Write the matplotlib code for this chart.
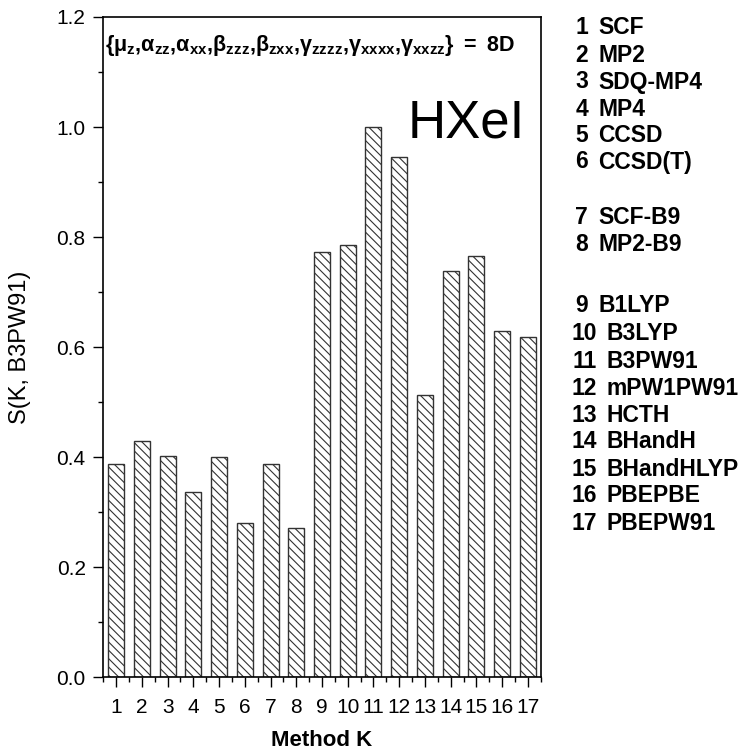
import matplotlib
matplotlib.use("Agg")
import matplotlib.pyplot as plt
import numpy as np

methods = list(range(1, 18))
values = [0.387, 0.429, 0.402, 0.336, 0.401, 0.281, 0.388, 0.272,
          0.773, 0.785, 1.000, 0.945, 0.513, 0.739, 0.766, 0.629, 0.619]
method_names = ["SCF", "MP2", "SDQ-MP4", "MP4", "CCSD", "CCSD(T)",
                "SCF-B9", "MP2-B9",
                "B1LYP", "B3LYP", "B3PW91", "mPW1PW91", "HCTH", "BHandH",
                "BHandHLYP", "PBEPBE", "PBEPW91"]
ylabel = "S(K, B3PW91)"
xlabel = "Method K"
molecule = "HXeI"

plt.rcParams['font.family'] = ['Liberation Sans', 'DejaVu Sans']
plt.rcParams['mathtext.fontset'] = 'custom'
plt.rcParams['mathtext.rm'] = 'Liberation Sans:bold'
plt.rcParams['mathtext.it'] = 'Liberation Sans:bold'
plt.rcParams['mathtext.bf'] = 'Liberation Sans:bold'
plt.rcParams['hatch.linewidth'] = 0.8

W, H = 747, 751
fig = plt.figure(figsize=(W/100, H/100), dpi=100)
x0, x1, y0, y1 = 103.3, 540.7, 17.0, 677.3
ax = fig.add_axes([x0/W, 1 - y1/H, (x1-x0)/W, (y1-y0)/H])

ax.bar(methods, values, width=0.62, color='white', edgecolor='#333333',
       linewidth=1.0, hatch='\\\\\\\\')

ax.set_xlim(0.5, 17.5)
ax.set_ylim(0, 1.2)
ax.set_xticks(methods)
ax.set_xticks(np.arange(0.5, 18, 1.0), minor=True)
ax.set_yticks(np.arange(0, 1.21, 0.2))
ax.set_yticks(np.arange(0.1, 1.2, 0.2), minor=True)
ax.set_yticklabels([f"{v:.1f}" for v in np.arange(0, 1.21, 0.2)])
ax.tick_params(which='major', direction='out', length=7.2, width=1.0, labelsize=15)
ax.tick_params(axis='y', which='major', pad=5.5)
ax.tick_params(axis='x', which='major', pad=8)
ax.tick_params(which='minor', direction='out', length=3.6, width=1.0)
for s in ax.spines.values():
    s.set_linewidth(1.2)

yl = ax.set_ylabel(ylabel, fontsize=17)
yl.set_va('center')
ax.yaxis.set_label_coords((20 - x0)/(x1 - x0), 0.5)
xl = ax.set_xlabel(xlabel, fontsize=16, fontweight='bold')
xl.set_va('center')
ax.xaxis.set_label_coords(0.5, (y1 - 741)/(y1 - y0))

formula = (r"$\{\mathrm{μ_z{,}α_{zz}{,}α_{xx}{,}β_{zzz}{,}β_{zxx}{,}γ_{zzzz}{,}γ_{xxxx}{,}γ_{xxzz}}\}"
           r"\mathrm{\ {=}\ 8D}$")
fig.text(105/W, 1 - 45/H, formula, fontsize=15.5, ha='left', va='center')

fig.text(525/W, 1 - 138/H, molecule, fontsize=38, ha='right', va='baseline')

ys = [28, 55, 82, 109, 135, 162, 217, 244, 306, 333, 361, 388, 415, 442, 469, 496, 523]
for i, (n, name) in enumerate(zip(methods, method_names)):
    fig.text((597 if n >= 10 else 588)/W, 1 - ys[i]/H, str(n), fontsize=16.5,
             fontweight='bold', ha='right', va='center')
    fig.text((606 if n >= 10 else 598)/W, 1 - ys[i]/H, name, fontsize=16.5,
             fontweight='bold', ha='left', va='center')

fig.savefig("out.png", dpi=100)
